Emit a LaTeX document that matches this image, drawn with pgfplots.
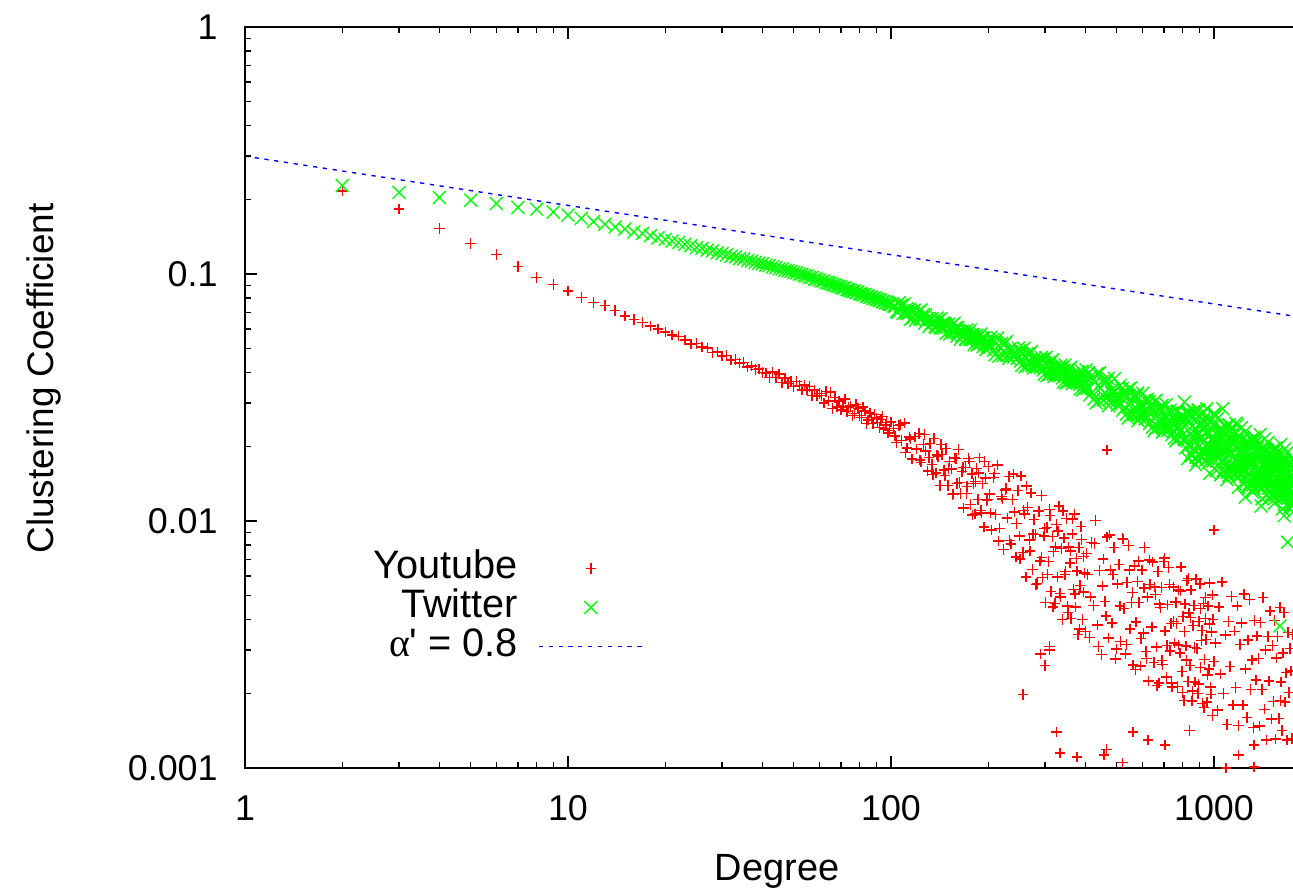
\documentclass[border=0pt]{standalone}
\usepackage{fontspec}
\setmainfont{Liberation Sans}
\newfontfamily\greekserif{Liberation Serif}
\usepackage{pgfplots}
\pgfplotsset{compat=1.18}

\definecolor{gpred}{RGB}{255,0,0}
\definecolor{gpgreen}{RGB}{0,255,0}
\definecolor{gpblue}{RGB}{0,0,255}

\pgfplotsset{
  markleg/.style={legend image code/.code={\draw[##1,mark repeat=2,mark phase=2] plot coordinates {(0cm,0cm) (0.52cm,0cm) (1.04cm,0cm)};}},
  lineleg/.style={legend image code/.code={\draw[##1] (0cm,0cm) -- (1.04cm,0cm);}},
  yt/.style={only marks, mark=+, color=gpred, mark size=1.5pt, mark options={solid, line width=0.4pt}, markleg},
  tw/.style={only marks, mark=x, color=gpgreen, mark size=2.6pt, mark options={solid, line width=0.4pt}, markleg},
}

\begin{document}
\begin{tikzpicture}[font=\fontsize{10.2}{12.2}\selectfont]
\begin{axis}[
  name=ax,
  scale only axis,
  axis on top,
  width=10.59cm, height=7.41cm,
  xmode=log, ymode=log,
  xmin=1, xmax=1900, ymin=0.001, ymax=1,
  xtick pos=both, ytick pos=left,
  axis line style={line width=0.6pt},
  tick align=inside,
  major tick length=0.12cm, minor tick length=0.06cm,
  tick style={black, line width=0.4pt},
  xtick={1,10,100,1000}, xticklabels={1,10,100,1000},
  ytick={0.001,0.01,0.1,1}, yticklabels={0.001,0.01,0.1,1},
  minor xtick={2,3,4,5,6,7,8,9,20,30,40,50,60,70,80,90,200,300,400,500,600,700,800,900},
  minor ytick={0.002,0.003,0.004,0.005,0.006,0.007,0.008,0.009,0.02,0.03,0.04,0.05,0.06,0.07,0.08,0.09,0.2,0.3,0.4,0.5,0.6,0.7,0.8,0.9},
  xticklabel style={yshift=-0.15cm},
  yticklabel style={xshift=-0.15cm},
  xlabel={Degree},
  ylabel={Clustering Coefficient},
  xlabel style={at={(axis description cs:0.5024,-0.139)}, anchor=center, font=\fontsize{10.8}{13}\selectfont},
  ylabel style={at={(axis description cs:-0.190,0.5256)}, anchor=center, font=\fontsize{10.5}{12.6}\selectfont},
  legend plot pos=right,
  legend cell align=right,
  legend style={draw=none, fill=none, at={(axis description cs:0.387,0.306)}, anchor=north east,
    column sep=5.5pt, row sep=0pt, font=\fontsize{11.3}{13.5}\selectfont,
    nodes={inner sep=0.25pt, text height=8.2pt, text depth=2.4pt}},
]
% Youtube
\addplot[yt] coordinates {
(2,0.217)(3,0.183)(4,0.153)(5,0.133)(6,0.120)(7,0.107)(8,0.0966)(9,0.0908)(10,0.0853)
(11,0.0805)(12,0.0768)(13,0.0745)(14,0.0712)(15,0.0675)(16,0.0655)(17,0.0635)(18,0.0615)(19,0.0598)(20,0.0582)
(21,0.0567)(22,0.0560)(23,0.0540)(24,0.0520)(25,0.0522)(26,0.0506)(27,0.0502)(28,0.0481)(29,0.0483)(30,0.0466)
(31,0.0468)(32,0.0449)(33,0.0450)(34,0.0436)(35,0.0438)(36,0.0420)(37,0.0424)(38,0.0410)(39,0.0412)(40,0.0399)
(41,0.0398)(42,0.0382)(43,0.0401)(44,0.0381)(45,0.0394)(46,0.0364)(47,0.0379)(48,0.0361)(49,0.0368)(50,0.0351)
(51,0.0367)(52,0.0353)(53,0.0339)(54,0.0356)(55,0.0339)(56,0.0351)(57,0.0323)(58,0.0339)(59,0.0321)(60,0.0328)
(61,0.0322)(62,0.0300)(63,0.0335)(64,0.0306)(65,0.0333)(66,0.0286)(67,0.0317)(68,0.0289)(69,0.0306)(70,0.0282)
(71,0.0290)(72,0.0312)(73,0.0277)(74,0.0288)(75,0.0292)(76,0.0267)(77,0.0272)(78,0.0296)(79,0.0285)(80,0.0268)
(81,0.0262)(82,0.0290)(83,0.0279)(84,0.0248)(85,0.0256)(86,0.0274)(87,0.0263)(88,0.0248)(89,0.0270)(90,0.0261)
(91,0.0250)(92,0.0239)(93,0.0257)(94,0.0265)(95,0.0236)(96,0.0245)(97,0.0250)(98,0.0227)(99,0.0233)(100,0.0252)
(102,0.02366)(104,0.02075)(106,0.02438)(108,0.02123)(110,0.02495)(112,0.01972)(114,0.02188)(116,0.01782)(118,0.02193)(120,0.01954)
(122,0.02265)(124,0.0173)(126,0.02037)(128,0.01919)(130,0.01596)(132,0.02056)(134,0.01698)(136,0.02158)(138,0.01563)(140,0.01824)
(142,0.01393)(144,0.01862)(146,0.01607)(148,0.01963)(150,0.01396)(152,0.01742)(154,0.01622)(156,0.01288)(158,0.01799)(160,0.01419)
(162,0.01945)(164,0.01294)(166,0.01585)(168,0.0113)(170,0.01648)(172,0.01377)(174,0.01795)(176,0.01164)(178,0.01549)(180,0.01422)
(182,0.01069)(184,0.01633)(186,0.01222)(188,0.01803)(190,0.01102)(192,0.01419)(194,0.00944)(196,0.01493)(198,0.01208)(200,0.0166)
(103,0.02208)(107,0.02455)(111,0.01892)(115,0.02148)(119,0.02193)(123,0.01766)(127,0.02239)(131,0.01811)(135,0.01542)(139,0.01854)
(143,0.02042)(147,0.01528)(151,0.01633)(155,0.01282)(159,0.01795)(163,0.01429)(167,0.01644)(171,0.01291)(175,0.01738)(179,0.01057)
(183,0.01449)(187,0.01567)(191,0.01079)(195,0.01742)(199,0.01222)
(202,0.01288)(205,0.0092)(208,0.01503)(211,0.01064)(214,0.01687)(217,0.00935)(220,0.01259)(223,0.00767)(226,0.01334)(229,0.01028)
(232,0.01517)(235,0.00807)(238,0.01225)(241,0.01086)(244,0.00716)(247,0.0133)(250,0.00871)(253,0.01524)(256,0.00745)(259,0.01067)
(262,0.00594)(265,0.01135)(268,0.00838)(271,0.0130)(274,0.00635)(277,0.01014)(280,0.00883)(283,0.00559)(286,0.01096)(289,0.0069)
(292,0.01271)(295,0.0059)(298,0.00869)(301,0.00467)(304,0.00942)(307,0.00687)(310,0.01112)(313,0.00519)(316,0.00865)(319,0.00753)
(322,0.00463)(325,0.00966)(328,0.00593)(331,0.01151)(334,0.00508)(337,0.00776)(340,0.0040)(343,0.00853)(346,0.00608)(349,0.01023)
(352,0.00453)(355,0.00785)(358,0.00676)(361,0.00404)(364,0.00885)(367,0.00527)(370,0.01069)(373,0.00448)(376,0.00706)(379,0.00348)
(382,0.00782)(385,0.00547)(388,0.00951)(391,0.0040)(394,0.00718)(397,0.00615)(400,0.00357)
(203,0.01076)(209,0.01556)(215,0.0083)(221,0.01227)(227,0.01355)(233,0.00836)(239,0.01552)(245,0.00977)(251,0.00703)(257,0.01104)
(263,0.01384)(269,0.00757)(275,0.00887)(281,0.00552)(287,0.01091)(293,0.00713)(299,0.00933)(305,0.00608)(311,0.01054)(317,0.00449)
(323,0.00785)(329,0.0091)(335,0.00493)(341,0.01099)(347,0.00624)(353,0.00427)(359,0.00757)(365,0.01019)(371,0.00506)(377,0.00628)
(383,0.00365)(389,0.00843)(395,0.00516)
(406,0.00607)(412,0.00337)(418,0.0082)(424,0.00455)(430,0.01007)(436,0.00379)(442,0.0063)(448,0.00288)(454,0.00702)(460,0.00472)
(466,0.00863)(472,0.00336)(478,0.00634)(484,0.00387)(490,0.0078)(496,0.00276)(502,0.00556)(508,0.00668)(514,0.00326)(520,0.00851)
(526,0.00443)(532,0.00289)(538,0.00564)(544,0.00798)(550,0.00365)(556,0.00469)(562,0.00261)(568,0.00658)(574,0.0039)(580,0.0057)
(586,0.00467)(592,0.00259)(598,0.00634)(604,0.00352)(610,0.00783)(616,0.00296)(622,0.00492)(628,0.00225)(634,0.00552)(640,0.00372)
(646,0.00682)(652,0.00267)(658,0.00505)(664,0.00309)(670,0.00624)(676,0.00221)(682,0.00446)(688,0.00538)(694,0.00263)(700,0.00687)
(403,0.0074)(415,0.00493)(427,0.00809)(439,0.00311)(451,0.00546)(463,0.00413)(475,0.00879)(487,0.00607)(499,0.00303)(511,0.00452)
(523,0.00847)(535,0.00317)(547,0.00634)(559,0.00514)(571,0.0025)(583,0.00689)(595,0.00334)(607,0.00535)(619,0.00277)(631,0.00695)
(643,0.00372)(655,0.0054)(667,0.00216)(679,0.00462)(691,0.00272)
(706,0.00359)(712,0.00234)(718,0.00458)(724,0.0065)(730,0.00298)(736,0.00384)(742,0.00213)(748,0.00541)(754,0.00321)(760,0.0047)
(766,0.00385)(772,0.00214)(778,0.00525)(784,0.00292)(790,0.00652)(796,0.00246)(802,0.0041)(808,0.00188)(814,0.00461)(820,0.00312)
(826,0.00573)(832,0.00224)(838,0.00424)(844,0.0026)(850,0.00526)(856,0.00187)(862,0.00378)(868,0.00455)(874,0.00223)(880,0.00583)
(886,0.00305)(892,0.002)(898,0.00391)(904,0.00555)(910,0.00255)(916,0.00328)(922,0.00183)(928,0.00463)(934,0.00275)(940,0.00404)
(946,0.00331)(952,0.00185)(958,0.00453)(964,0.00252)(970,0.00562)(976,0.00213)(982,0.00355)(988,0.00163)(994,0.0040)(1000,0.0027)
(703,0.00708)(715,0.00313)(727,0.00552)(739,0.00221)(751,0.00391)
(763,0.00469)(775,0.00315)(787,0.00521)(799,0.00202)(811,0.00357)(823,0.00274)(835,0.00586)(847,0.00407)(859,0.00205)(871,0.00308)
(883,0.00582)(895,0.00219)(907,0.00442)(919,0.00361)(931,0.00176)(943,0.00489)(955,0.00238)(967,0.00383)(979,0.00199)(991,0.00502)
(1012,0.00321)(1024,0.00172)(1036,0.00449)(1048,0.0024)(1060,0.00566)(1072,0.002)(1084,0.00345)(1096,0.0015)(1108,0.00392)(1120,0.00258)
(1132,0.00494)(1144,0.0018)(1156,0.00358)(1168,0.00212)(1180,0.00452)(1192,0.00149)(1204,0.00316)(1216,0.00387)(1228,0.0018)(1240,0.00506)
(1252,0.00252)(1264,0.0016)(1276,0.0033)(1288,0.0048)(1300,0.00208)(1312,0.00274)(1324,0.00146)(1336,0.00396)(1348,0.00227)(1360,0.00342)
(1372,0.00277)(1384,0.00148)(1396,0.00388)(1408,0.00208)(1420,0.0049)(1432,0.00173)(1444,0.003)(1456,0.0013)(1468,0.00341)(1480,0.00225)
(1492,0.00432)(1504,0.00158)(1516,0.00313)(1528,0.00186)(1540,0.00396)(1552,0.00131)(1564,0.00279)(1576,0.00341)(1588,0.00159)(1600,0.00447)
(1612,0.00223)(1624,0.00142)(1636,0.00292)(1648,0.00426)(1660,0.00185)(1672,0.00243)(1684,0.0013)(1696,0.00353)(1708,0.00202)(1720,0.00305)
(1732,0.00247)(1744,0.00132)(1756,0.00347)
(1000,0.0092)(467,0.0194)(256,0.00198)(457,0.00113)(290,0.0029)(300,0.0026)(310,0.0031)(560,0.00098)(710,0.00097)(520,0.00105)(1330,0.00101)
(334,0.00115)(377,0.00111)(465,0.00119)(561,0.0014)(326,0.0014)(309,0.0030)(625,0.0013)(706,0.00124)(840,0.00142)(1331,0.00124)
(1090,0.0010)(1190,0.00113)(1605,0.00188)
};
\addlegendentry{Youtube}
% Twitter
\addplot[tw] coordinates {
(2,0.228)(3,0.214)(4,0.204)(5,0.199)(6,0.193)(7,0.186)(8,0.183)(9,0.178)(10,0.173)
(11,0.168)(12,0.163)(13,0.159)(14,0.155)(15,0.152)(16,0.148)(17,0.146)(18,0.143)(19,0.140)(20,0.138)
(21,0.136)(22,0.134)(23,0.132)(24,0.130)(25,0.128)(26,0.127)(27,0.125)(28,0.124)(29,0.122)(30,0.121)
(31,0.1195)(32,0.1180)(33,0.1172)(34,0.1155)(35,0.1150)(36,0.1135)(37,0.1128)(38,0.1115)(39,0.1105)(40,0.1100)
(41,0.1085)(42,0.1082)(43,0.1070)(44,0.1062)(45,0.1050)(46,0.1048)(47,0.1035)(48,0.1030)(49,0.1025)(50,0.1015)
(51,0.1012)(52,0.1000)(53,0.0998)(54,0.0985)(55,0.0982)(56,0.0970)(57,0.0968)(58,0.0955)(59,0.0952)(60,0.0945)
(61,0.0935)(62,0.0938)(63,0.0925)(64,0.0920)(65,0.0915)(66,0.0905)(67,0.0902)(68,0.0895)(69,0.0890)(70,0.0885)
(71,0.0876)(72,0.0880)(73,0.0866)(74,0.0862)(75,0.0858)(76,0.0850)(77,0.0852)(78,0.0840)(79,0.0845)(80,0.0832)
(81,0.0830)(82,0.0822)(83,0.0826)(84,0.0812)(85,0.0815)(86,0.0805)(87,0.0808)(88,0.0796)(89,0.0800)(90,0.0790)
(91,0.0792)(92,0.0780)(93,0.0785)(94,0.0772)(95,0.0776)(96,0.0765)(97,0.0770)(98,0.0760)(99,0.0755)(100,0.0752)
(103,0.0740)(106,0.0765)(109,0.0694)(112,0.0723)(115,0.0657)(118,0.0713)(121,0.0671)(124,0.0715)(127,0.0632)(130,0.0660)
(133,0.0630)(136,0.0640)(139,0.0664)(142,0.0605)(145,0.0632)(148,0.0575)(151,0.0627)(154,0.0592)(157,0.0632)(160,0.0560)
(163,0.0586)(166,0.0561)(169,0.0571)(172,0.0594)(175,0.0542)(178,0.0568)(181,0.0518)(184,0.0565)(187,0.0534)(190,0.0571)
(193,0.0508)(196,0.0532)(199,0.0510)
(104,0.0706)(107,0.0745)(110,0.0756)(113,0.0690)(116,0.0706)(119,0.0649)(122,0.0705)(125,0.0664)(128,0.0683)(131,0.0613)
(134,0.0659)(137,0.0612)(140,0.0649)(143,0.0660)(146,0.0604)(149,0.0619)(152,0.0571)(155,0.0623)(158,0.0588)(161,0.0607)
(164,0.0545)(167,0.0587)(170,0.0546)(173,0.0580)(176,0.0591)(179,0.0542)(182,0.0557)(185,0.0516)(188,0.0563)(191,0.0532)
(194,0.0550)(197,0.0495)
(102,0.0742)(105,0.0700)(108,0.0747)(111,0.0694)(114,0.0720)(117,0.0665)(120,0.0694)(123,0.0655)(126,0.0686)(129,0.0648)
(132,0.0653)(135,0.0640)(138,0.0608)(141,0.0651)(144,0.0607)(147,0.0630)(150,0.0585)(153,0.0612)(156,0.0579)(159,0.0609)
(162,0.0576)(165,0.0583)(168,0.0571)(171,0.0543)(174,0.0583)(177,0.0545)(180,0.0568)(183,0.0527)(186,0.0553)(189,0.0524)
(192,0.0552)(195,0.0524)(198,0.0529)
(200,0.0526)(204,0.0555)(208,0.0492)(212,0.0524)(216,0.0465)(220,0.0524)(224,0.0486)(228,0.0533)(232,0.0456)(236,0.0486)
(240,0.0461)(244,0.0474)(248,0.0501)(252,0.0445)(256,0.0475)(260,0.0421)(264,0.0476)(268,0.0443)(272,0.0486)(276,0.0416)
(280,0.0445)(284,0.0422)(288,0.0434)(292,0.0460)(296,0.0409)(300,0.0437)(304,0.0388)(308,0.0439)(312,0.0409)(316,0.0449)
(320,0.0385)(324,0.0412)(328,0.0391)(332,0.0403)(336,0.0428)(340,0.0380)(344,0.0407)(348,0.0362)(352,0.0409)(356,0.0382)
(360,0.0419)(364,0.0360)(368,0.0385)(372,0.0366)(376,0.0378)(380,0.0401)(384,0.0357)(388,0.0382)(392,0.0340)(396,0.0385)
(400,0.0359)
(202,0.0504)(206,0.0541)(210,0.0471)(214,0.0551)(218,0.0502)(222,0.0467)(226,0.0526)(230,0.0467)(234,0.0498)(238,0.0471)
(242,0.0480)(246,0.0455)(250,0.0490)(254,0.0427)(258,0.0500)(262,0.0456)(266,0.0425)(270,0.0479)(274,0.0426)(278,0.0454)
(282,0.0431)(286,0.0440)(290,0.0417)(294,0.0450)(298,0.0393)(302,0.0460)(306,0.0421)(310,0.0392)(314,0.0443)(318,0.0393)
(322,0.0421)(326,0.0400)(330,0.0408)(334,0.0388)(338,0.0418)(342,0.0365)(346,0.0428)(350,0.0392)(354,0.0366)(358,0.0413)
(362,0.0368)(366,0.0394)(370,0.0374)(374,0.0382)(378,0.0363)(382,0.0393)(386,0.0343)(390,0.0403)(394,0.0369)(398,0.0344)
(410,0.0398)(420,0.0332)(430,0.0366)(440,0.0306)(450,0.0367)(460,0.0329)(470,0.0378)(480,0.0300)(490,0.0331)(500,0.0305)
(510,0.0319)(520,0.0344)(530,0.0288)(540,0.0318)(550,0.0266)(560,0.0319)(570,0.0286)(580,0.0330)(590,0.0262)(600,0.0289)
(610,0.0267)(620,0.0279)(630,0.0304)(640,0.0255)(650,0.0282)(660,0.0237)(670,0.0284)(680,0.0256)(690,0.0294)(700,0.0234)
(710,0.0260)(720,0.0239)(730,0.0251)(740,0.0274)(750,0.0230)(760,0.0255)(770,0.0215)(780,0.0258)(790,0.0232)(800,0.0268)
(405,0.0344)(415,0.0384)(425,0.0312)(435,0.0395)(445,0.0345)(455,0.0309)(465,0.0370)(475,0.0310)(485,0.0342)(495,0.0315)
(505,0.0325)(515,0.0298)(525,0.0333)(535,0.0271)(545,0.0343)(555,0.0300)(565,0.0269)(575,0.0322)(585,0.0270)(595,0.0299)
(605,0.0276)(615,0.0284)(625,0.0263)(635,0.0294)(645,0.0240)(655,0.0305)(665,0.0267)(675,0.0240)(685,0.0288)(695,0.0242)
(705,0.0268)(715,0.0248)(725,0.0256)(735,0.0237)(745,0.0266)(755,0.0217)(765,0.0276)(775,0.0242)(785,0.0218)(795,0.0262)
(402,0.0409)(412,0.0324)(422,0.0373)(432,0.0301)(442,0.0398)(452,0.0324)(462,0.0364)(472,0.0293)(482,0.0329)(492,0.0377)
(502,0.0295)(512,0.0354)(522,0.0281)(532,0.0323)(542,0.0261)(552,0.0345)(562,0.0282)(572,0.0318)(582,0.0255)(592,0.0288)
(602,0.0329)(612,0.0259)(622,0.0311)(632,0.0248)(642,0.0287)(652,0.0232)(662,0.0308)(672,0.0252)(682,0.0284)(692,0.0229)
(702,0.0258)(712,0.0296)(722,0.0233)(732,0.0281)(742,0.0224)(752,0.0259)(762,0.0211)(772,0.0279)(782,0.0229)(792,0.0258)
(820,0.0274)(840,0.0205)(860,0.0243)(880,0.0181)(900,0.0247)(920,0.0207)(940,0.0263)(960,0.0179)(980,0.0213)(1000,0.0187)
(1020,0.0203)(1040,0.0235)(1060,0.0176)(1080,0.0210)(1100,0.0157)(1120,0.0214)(1140,0.0180)(1160,0.0230)(1180,0.0157)(1200,0.0187)
(1220,0.0165)(1240,0.0179)(1260,0.0208)(1280,0.0156)(1300,0.0186)(1320,0.0140)(1340,0.0191)(1360,0.0161)(1380,0.0206)(1400,0.0141)
(1420,0.0168)(1440,0.0148)(1460,0.0161)(1480,0.0188)(1500,0.0141)(1520,0.0169)(1540,0.0127)(1560,0.0173)(1580,0.0146)(1600,0.0187)
(1620,0.0128)(1640,0.0153)(1660,0.0136)(1680,0.0147)(1700,0.0172)(1720,0.0129)(1740,0.0154)(1760,0.0116)
(807,0.0215)(827,0.0260)(847,0.0186)(867,0.0277)(887,0.0222)(907,0.0186)(927,0.0254)(947,0.0190)(967,0.0225)(987,0.0198)
(1007,0.0210)(1027,0.0184)(1047,0.0224)(1067,0.0160)(1087,0.0240)(1107,0.0193)(1127,0.0162)(1147,0.0221)(1167,0.0166)(1187,0.0197)
(1207,0.0174)(1227,0.0184)(1247,0.0162)(1267,0.0199)(1287,0.0142)(1307,0.0213)(1327,0.0171)(1347,0.0145)(1367,0.0197)(1387,0.0149)
(1407,0.0177)(1427,0.0157)(1447,0.0166)(1467,0.0147)(1487,0.0178)(1507,0.0128)(1527,0.0193)(1547,0.0155)(1567,0.0131)(1587,0.0180)
(1607,0.0135)(1627,0.0161)(1647,0.0142)(1667,0.0151)(1687,0.0134)(1707,0.0164)(1727,0.0118)(1747,0.0177)
(814,0.0247)(834,0.0201)(854,0.0261)(874,0.0208)(894,0.0265)(914,0.0181)(934,0.0237)(954,0.0204)(974,0.0184)(994,0.0243)
(1014,0.0200)(1034,0.0211)(1054,0.0173)(1074,0.0225)(1094,0.0180)(1114,0.0230)(1134,0.0158)(1154,0.0207)(1174,0.0178)(1194,0.0161)
(1214,0.0214)(1234,0.0176)(1254,0.0187)(1274,0.0153)(1294,0.0200)(1314,0.0161)(1334,0.0205)(1354,0.0140)(1374,0.0185)(1394,0.0159)
(1414,0.0145)(1434,0.0192)(1454,0.0159)(1474,0.0168)(1494,0.0138)(1514,0.0182)(1534,0.0145)(1554,0.0186)(1574,0.0128)(1594,0.0167)
(1614,0.0145)(1634,0.0132)(1654,0.0176)(1674,0.0145)(1694,0.0154)(1714,0.0127)(1734,0.0166)(1754,0.0133)
(810,0.0303)(830,0.0179)(850,0.0226)(870,0.0279)(890,0.0176)(910,0.0243)(930,0.0188)(950,0.0285)(970,0.0156)(990,0.0216)
(1010,0.0187)(1030,0.0261)(1050,0.0154)(1070,0.0196)(1090,0.0242)(1110,0.0153)(1130,0.0212)(1150,0.0164)(1170,0.0249)(1190,0.0137)
(1210,0.0190)(1230,0.0165)(1250,0.0230)(1270,0.0137)(1290,0.0174)(1310,0.0215)(1330,0.0136)(1350,0.0189)(1370,0.0147)(1390,0.0224)
(1410,0.0123)(1430,0.0171)(1450,0.0148)(1470,0.0208)(1490,0.0124)(1510,0.0157)(1530,0.0195)(1550,0.0124)(1570,0.0172)(1590,0.0134)
(1610,0.0204)(1630,0.0112)(1650,0.0156)(1670,0.0136)(1690,0.0190)(1710,0.0113)(1730,0.0144)(1750,0.0179)
(817,0.0198)(837,0.0276)(857,0.0220)(877,0.0169)(897,0.0281)(917,0.0217)(937,0.0175)(957,0.0243)(977,0.0187)(997,0.0271)
(1017,0.0160)(1037,0.0170)(1057,0.0237)(1077,0.0190)(1097,0.0147)(1117,0.0245)(1137,0.0189)(1157,0.0153)(1177,0.0213)(1197,0.0165)
(1217,0.0239)(1237,0.0141)(1257,0.0151)(1277,0.0210)(1297,0.0168)(1317,0.0131)(1337,0.0218)(1357,0.0169)(1377,0.0137)(1397,0.0191)
(1417,0.0148)(1437,0.0215)(1457,0.0127)(1477,0.0136)(1497,0.0190)(1517,0.0152)(1537,0.0118)(1557,0.0198)(1577,0.0153)(1597,0.0125)
(1617,0.0174)(1637,0.0135)(1657,0.0196)(1677,0.0116)(1697,0.0124)(1717,0.0174)(1737,0.0140)(1757,0.0109)
(803,0.0261)(823,0.0217)(843,0.0271)(863,0.0195)(883,0.0223)(903,0.0268)(923,0.0195)(943,0.0229)(963,0.0173)(983,0.0237)
(1003,0.0197)(1023,0.0223)(1043,0.0186)(1063,0.0234)(1083,0.0168)(1103,0.0193)(1123,0.0233)(1143,0.0170)(1163,0.0200)(1183,0.0152)
(1203,0.0208)(1223,0.0174)(1243,0.0197)(1263,0.0165)(1283,0.0207)(1303,0.0149)(1323,0.0172)(1343,0.0208)(1363,0.0152)(1383,0.0179)
(1403,0.0136)(1423,0.0187)(1443,0.0156)(1463,0.0177)(1483,0.0149)(1503,0.0187)(1523,0.0135)(1543,0.0156)(1563,0.0189)(1583,0.0138)
(1603,0.0163)(1623,0.0124)(1643,0.0171)(1663,0.0143)(1683,0.0162)(1703,0.0136)(1723,0.0171)(1743,0.0124)
(813,0.0213)(833,0.0271)(853,0.0184)(873,0.0235)(893,0.0281)(913,0.0191)(933,0.0243)(953,0.0203)(973,0.0253)(993,0.0175)
(1013,0.0212)(1033,0.0183)(1053,0.0232)(1073,0.0158)(1093,0.0203)(1113,0.0244)(1133,0.0166)(1153,0.0212)(1173,0.0177)(1193,0.0222)
(1213,0.0154)(1233,0.0186)(1253,0.0161)(1273,0.0206)(1293,0.0140)(1313,0.0181)(1333,0.0217)(1353,0.0148)(1373,0.0189)(1393,0.0159)
(1413,0.0199)(1433,0.0138)(1453,0.0168)(1473,0.0145)(1493,0.0185)(1513,0.0127)(1533,0.0163)(1553,0.0196)(1573,0.0135)(1593,0.0172)
(1613,0.0144)(1633,0.0181)(1653,0.0126)(1673,0.0153)(1693,0.0133)(1713,0.0170)(1733,0.0116)(1753,0.0150)
(930,0.0275)(1010,0.0270)(1065,0.0285)(1180,0.0245)(1250,0.0125)(1400,0.0115)(1600,0.00376)(1650,0.0105)(1690,0.0082)
};
\addlegendentry{Twitter}
% reference slope
\addplot[gpblue, line width=0.4pt, dash pattern=on 1.2pt off 1.6pt, lineleg]
coordinates {(1,0.3) (1760,0.0676)};
\addlegendentry{{\greekserif α}\textquotesingle\ = 0.8}
\end{axis}
\pgfresetboundingbox
\path[use as bounding box] ([xshift=-2.45cm,yshift=-1.23cm]ax.south west) rectangle ([xshift=10.48cm,yshift=7.68cm]ax.south west);
\end{tikzpicture}
\end{document}
